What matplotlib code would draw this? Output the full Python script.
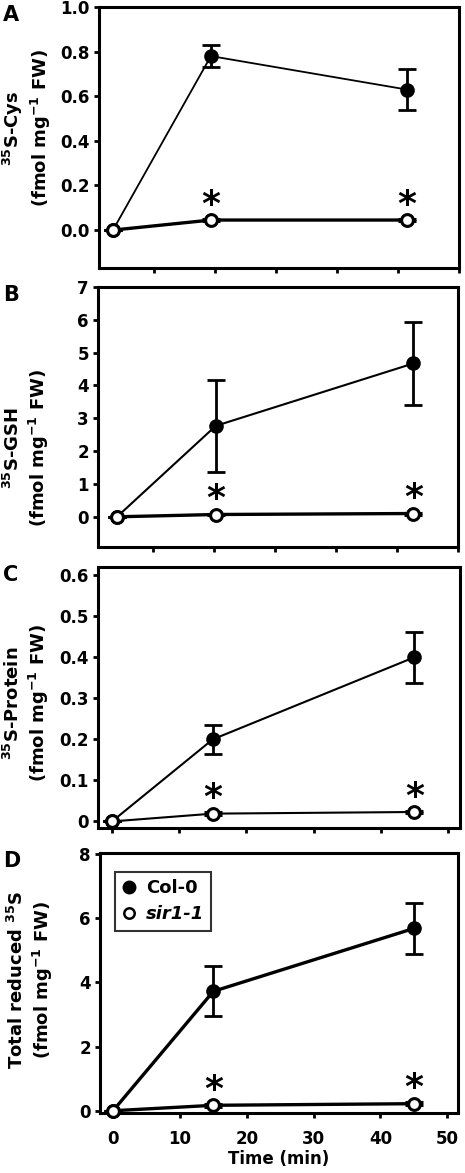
import matplotlib
matplotlib.use("Agg")
import matplotlib.pyplot as plt
from matplotlib.lines import Line2D
import numpy as np

plt.rcParams['font.family'] = ['DejaVu Sans']
plt.rcParams['font.weight'] = 'bold'
plt.rcParams['mathtext.default'] = 'bf'

time = [0, 15, 45]

cys_col = [0, 0.78, 0.63]
cys_col_err = [0, 0.048, 0.093]
cys_sir = [0, 0.045, 0.045]
cys_sir_err = [0, 0.006, 0.006]

gsh_col = [0, 2.77, 4.67]
gsh_col_err = [0, 1.4, 1.27]
gsh_sir = [0, 0.07, 0.10]
gsh_sir_err = [0, 0.03, 0.03]

prot_col = [0, 0.20, 0.40]
prot_col_err = [0, 0.035, 0.062]
prot_sir = [0, 0.019, 0.023]
prot_sir_err = [0, 0.003, 0.003]

tot_col = [0, 3.72, 5.68]
tot_col_err = [0, 0.78, 0.80]
tot_sir = [0, 0.17, 0.22]
tot_sir_err = [0, 0.05, 0.05]

star_x = [15, 45]

W, H = 465, 1173
fig = plt.figure(figsize=(W / 100, H / 100), dpi=100)


def rect(l, r, t, b):
    return [l / W, 1 - b / H, (r - l) / W, (b - t) / H]


panels = [
    dict(rect=rect(99, 459, 7, 268), col=cys_col, ce=cys_col_err, sir=cys_sir, se=cys_sir_err,
         xlim=(-2.14, 53.0), ylim=(-0.17, 1.0), yt=[0, 0.2, 0.4, 0.6, 0.8, 1.0],
         ytl=['0.0', '0.2', '0.4', '0.6', '0.8', '1.0'], lwc=1.3, lws=2.4,
         ylab='$^{35}$S-Cys\n(fmol mg$^{-1}$ FW)', labpos=(27, 128), letter='A', lety=5,
         xt='frac'),
    dict(rect=rect(98, 458, 287, 547), col=gsh_col, ce=gsh_col_err, sir=gsh_sir, se=gsh_sir_err,
         xlim=(-2.89, 51.8), ylim=(-0.92, 7), yt=list(range(8)),
         ytl=[str(i) for i in range(8)], lwc=1.5, lws=2.4,
         ylab='$^{35}$S-GSH\n(fmol mg$^{-1}$ FW)', labpos=(27, 448), letter='B', lety=285,
         xt='frac'),
    dict(rect=rect(98, 460, 567, 828), col=prot_col, ce=prot_col_err, sir=prot_sir, se=prot_sir_err,
         xlim=(-2.08, 51.8), ylim=(-0.016, 0.62), yt=[0, 0.1, 0.2, 0.3, 0.4, 0.5, 0.6],
         ytl=['0', '0.1', '0.2', '0.3', '0.4', '0.5', '0.6'], lwc=1.5, lws=1.5,
         ylab='$^{35}$S-Protein\n(fmol mg$^{-1}$ FW)', labpos=(27, 703), letter='C', lety=565,
         xt='ten'),
    dict(rect=rect(100, 458, 853, 1113), col=tot_col, ce=tot_col_err, sir=tot_sir, se=tot_sir_err,
         xlim=(-1.95, 51.6), ylim=(-0.07, 8.03), yt=[0, 2, 4, 6, 8],
         ytl=['0', '2', '4', '6', '8'], lwc=2.4, lws=2.4,
         ylab='Total reduced $^{35}$S\n(fmol mg$^{-1}$ FW)', labpos=(31, 980), letter='D', lety=851,
         xt='ten'),
]

fracs = [0.153, 0.322, 0.492, 0.661, 0.831, 1.0]

for i, p in enumerate(panels):
    ax = fig.add_axes(p['rect'])
    ax.errorbar(time, p['col'], yerr=p['ce'], fmt='-o', color='black', mfc='black', mec='black',
                ms=9.5, lw=p['lwc'], elinewidth=2.0, capsize=6.5, capthick=2.0, zorder=3,
                clip_on=False)
    ax.errorbar(time, p['sir'], yerr=p['se'], fmt='-o', color='black', mfc='white', mec='black',
                ms=8.5, mew=2.2, lw=p['lws'], elinewidth=2.0, capsize=6.5, capthick=2.0, zorder=4,
                clip_on=False)
    for sx in star_x:
        sy = p['sir'][time.index(sx)]
        ax.annotate('*', xy=(sx, sy), xytext=(0, 11), textcoords='offset points',
                    ha='center', va='center', fontsize=26, fontweight='bold')
    ax.set_xlim(*p['xlim'])
    ax.set_ylim(*p['ylim'])
    ax.set_yticks(p['yt'])
    ax.set_yticklabels(p['ytl'], fontsize=12, fontweight='bold')
    if p['xt'] == 'frac':
        x0, x1 = p['xlim']
        ax.set_xticks([x0 + f * (x1 - x0) for f in fracs])
        ax.set_xticklabels([])
    else:
        ax.set_xticks([0, 10, 20, 30, 40, 50])
        if i == 3:
            ax.set_xticklabels(['0', '10', '20', '30', '40', '50'], fontsize=12, fontweight='bold')
            ax.set_xlabel('Time (min)', fontsize=12, fontweight='bold', labelpad=1)
        else:
            ax.set_xticklabels([])
    for s in ax.spines.values():
        s.set_linewidth(2.2)
    ax.tick_params(axis='y', direction='out', length=3.5, width=2, pad=3)
    ax.tick_params(axis='x', direction='out', length=3.5, width=2, pad=9)
    fig.text(p['labpos'][0] / W, 1 - p['labpos'][1] / H, p['ylab'], rotation=90,
             ha='center', va='center', fontsize=13, fontweight='bold', multialignment='center')
    fig.text(3 / W, 1 - p['lety'] / H, p['letter'], ha='left', va='top', fontsize=15,
             fontweight='bold')
    if i == 3:
        handles = [Line2D([], [], ls='none', marker='o', color='black', mfc='black', ms=9),
                   Line2D([], [], ls='none', marker='o', color='black', mfc='white', ms=7.5, mew=1.8)]
        leg = ax.legend(handles, ['Col-0', 'sir1-1'], loc='upper left',
                        bbox_to_anchor=(0.042, 0.927), frameon=True, fancybox=False,
                        edgecolor='black', handlelength=0.7, handletextpad=0.6,
                        borderpad=0.4, labelspacing=0.45, borderaxespad=0,
                        prop={'size': 13, 'weight': 'bold'})
        leg.get_frame().set_linewidth(1.5)
        leg.texts[1].set_fontstyle('italic')

fig.savefig('out.png', dpi=100)
